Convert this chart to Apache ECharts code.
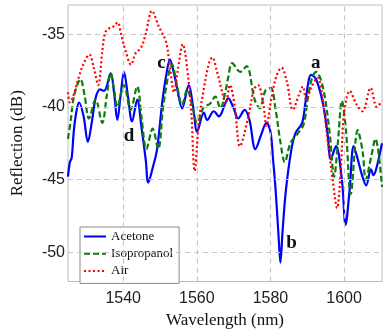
<!DOCTYPE html>
<html><head><meta charset="utf-8">
<script src="https://cdn.jsdelivr.net/npm/echarts@6/dist/echarts.min.js"></script>
<style>html,body{margin:0;padding:0;background:#fff}#c{width:383px;height:333px}</style>
</head><body><div id="c"></div><script>
const xTicks=[1540,1560,1580,1600];
const yTicks=[-50,-45,-40,-35];

const acetoneX=[1525,1525.5,1526,1526.6,1527.3,1528,1529.2,1530.4,1531.5,1532.5,1533.7,1534.8,1536.6,1537.5,1538.4,1539.3,1540.2,1541.3,1542.4,1543.8,1545,1546.1,1546.8,1548,1549.2,1550.6,1551.7,1552.7,1553.7,1554.7,1556,1557.8,1559,1560.1,1561.9,1562.8,1564.6,1566,1567.8,1568.5,1570,1571.2,1573,1574.3,1575.9,1577.5,1578.9,1580,1580.7,1581.4,1582.3,1582.7,1583.3,1584.2,1585.7,1586.8,1588.6,1589.5,1590.3,1591,1592.4,1594.2,1595.5,1596.4,1597.8,1599.4,1600.4,1601.5,1602.6,1603.5,1605,1606,1607.3,1608,1608.8,1610.3];
const acetoneY=[-44.8,-43.8,-43.5,-41.6,-40.3,-39.7,-40.6,-42.4,-41.0,-39.4,-38.8,-38.9,-37.7,-39.0,-40.9,-39.2,-37.6,-39.3,-41.0,-39.5,-41.5,-43.6,-45.2,-44.2,-42.9,-39.7,-37.8,-36.75,-37.6,-38.8,-40.1,-38.5,-40.0,-41.7,-40.4,-40.9,-40.3,-40.65,-39.7,-39.4,-40.1,-40.8,-40.2,-40.9,-42.9,-41.9,-41.1,-41.7,-43.6,-45.7,-49.3,-50.7,-48.5,-45.7,-42.9,-41.8,-41.1,-39.7,-38.3,-37.8,-38.1,-39.7,-41.8,-43.6,-42.7,-45.0,-48.1,-45.7,-42.7,-43.4,-44.8,-45.4,-44.3,-44.7,-44.2,-42.5];

const isoX=[1525,1525.8,1526.6,1528.4,1529.5,1530.7,1532.5,1534.3,1535.5,1536.6,1537.5,1538.4,1540.2,1542,1543.8,1545,1546.3,1548,1549.5,1551,1553.3,1554.5,1556,1557.4,1558.8,1560.1,1561.9,1563.5,1565,1566.4,1567.8,1568.5,1569.6,1571.8,1573.5,1575.7,1577.1,1578.6,1580.1,1581.4,1582.7,1583.9,1585.4,1587.2,1589,1590.1,1591.3,1592.4,1594.2,1596,1597.3,1598.3,1599.4,1600.5,1601.8,1603.7,1605,1605.9,1607.3,1608.5,1610.3];
const isoY=[-42.2,-40.8,-39.3,-38.1,-39.2,-40.8,-39.5,-41.1,-39.3,-37.7,-38.8,-40.0,-38.5,-40.2,-38.6,-40.8,-42.9,-41.5,-42.9,-39.7,-37.1,-38.4,-39.85,-38.8,-40.0,-41.1,-40.0,-39.8,-39.3,-40.1,-38.9,-38.0,-37.0,-37.6,-37.2,-39.5,-40.1,-38.9,-38.7,-40.2,-42.4,-43.8,-42.5,-41.9,-41.2,-39.5,-38.0,-37.6,-38.6,-41.6,-44.8,-42.5,-39.6,-41.6,-46.0,-41.6,-43.0,-45.0,-43.5,-42.2,-45.5];

const airX=[1525,1525.5,1526.5,1528,1529.3,1530.8,1532,1533.2,1534.3,1535.1,1536.2,1537.2,1538.5,1539.4,1540.7,1542.1,1543.4,1544.8,1546.1,1547.8,1549.7,1551.6,1552.7,1553.8,1554.8,1556.2,1557.4,1558.5,1559.4,1560.6,1562,1563.3,1564.2,1565.5,1566.9,1567.8,1569,1570.3,1571.7,1573.8,1575.5,1576.6,1578,1578.9,1580.2,1581.6,1583,1584.4,1586.1,1587.7,1588.8,1589.7,1591.2,1592.8,1594.2,1595.5,1596.8,1598.1,1599.1,1599.8,1600.6,1601.5,1603.3,1605,1607.2,1608.9,1610.3];
const airY=[-39.0,-39.7,-39.2,-37.9,-37.0,-36.4,-37.3,-38.5,-36.2,-34.9,-34.6,-34.5,-34.2,-35.0,-36.2,-37.1,-36.3,-35.95,-35.0,-33.4,-34.5,-35.5,-37.3,-39.0,-37.5,-35.7,-37.4,-40.4,-44.4,-40.9,-38.6,-37.0,-36.6,-37.6,-39.0,-39.8,-38.5,-40.0,-42.7,-40.9,-38.8,-38.5,-39.7,-41.3,-39.5,-37.9,-37.3,-38.2,-40.2,-39.2,-38.6,-39.5,-38.6,-38.0,-39.5,-42.25,-44.8,-46.95,-44.3,-40.9,-39.5,-38.9,-39.8,-40.3,-38.7,-40.0,-39.6];

const markNames=['a','b','c','d'];
const markX=[1592.3,1585.7,1550.4,1541.6];
const markY=[-36.96,-49.35,-37.0,-42.0];

const zip=(xs,ys)=>xs.map((x,i)=>[x,ys[i]]);
const chart=echarts.init(document.getElementById('c'));
const serif='"Liberation Serif","Times New Roman",serif';
const sans='"Liberation Sans",Arial,sans-serif';
chart.setOption({
  animation:false,
  grid:{left:68,top:5,right:1,bottom:51.5,outerBoundsMode:'none',containLabel:false,show:true,borderColor:'#bdbdbd',borderWidth:1,backgroundColor:'transparent'},
  xAxis:{type:'value',min:1525,max:1610.3,
    name:'Wavelength (nm)',nameLocation:'middle',nameGap:31,
    nameTextStyle:{fontFamily:serif,fontSize:17,color:'#111'},
    axisLine:{show:false},axisTick:{show:false},splitLine:{show:false},
    axisLabel:{customValues:xTicks,formatter:v=>String(v),fontFamily:sans,fontSize:16,color:'#222',margin:9}},
  yAxis:{type:'value',min:-52,max:-33,
    name:'Reflection (dB)',nameLocation:'middle',nameGap:42,nameRotate:90,
    nameTextStyle:{fontFamily:serif,fontSize:17,color:'#111'},
    axisLine:{show:false},axisTick:{show:false},splitLine:{show:false},
    axisLabel:{customValues:yTicks,formatter:v=>String(v),fontFamily:sans,fontSize:16,color:'#222',margin:3}},
  legend:{data:['Acetone','Isopropanol','Air'],orient:'vertical',left:80,top:227,
    itemWidth:22,itemHeight:12,itemGap:4.2,padding:[3,6,6,3],
    itemStyle:{opacity:0},
    borderColor:'#8a8a8a',borderWidth:1,backgroundColor:'#fff',borderRadius:0,
    textStyle:{fontFamily:serif,fontSize:13,color:'#111'}},
  series:[
    {name:'grid',type:'line',data:[],z:1,silent:true,
      markLine:{silent:true,symbol:['none','none'],label:{show:false},
        lineStyle:{color:'#c6c6c6',type:[5,4],width:1.2},
        data:xTicks.map(v=>({xAxis:v})).concat(yTicks.map(v=>({yAxis:v})))}},
    {name:'Acetone',type:'line',data:zip(acetoneX,acetoneY),symbol:'none',smooth:0.35,z:3,
      lineStyle:{color:'#0000ff',width:2.2,type:'solid'},itemStyle:{color:'#0000ff'}},
    {name:'Isopropanol',type:'line',data:zip(isoX,isoY),symbol:'none',smooth:0.35,z:4,
      lineStyle:{color:'#0a7d0a',width:2.2,type:[6,3]},itemStyle:{color:'#0a7d0a'}},
    {name:'Air',type:'line',data:zip(airX,airY),symbol:'none',smooth:0.35,z:5,
      lineStyle:{color:'#ff0000',width:2.2,type:[2,2.5]},itemStyle:{color:'#ff0000'}},
    {name:'labels',type:'line',data:[],z:6,silent:true,
      markPoint:{symbol:'circle',symbolSize:1,itemStyle:{color:'rgba(0,0,0,0)'},
        label:{show:true,position:'inside',formatter:p=>p.name,fontFamily:serif,fontWeight:'bold',fontSize:19,color:'#111'},
        data:markNames.map((n,i)=>({name:n,coord:[markX[i],markY[i]]}))}}
  ]
});
</script></body></html>
